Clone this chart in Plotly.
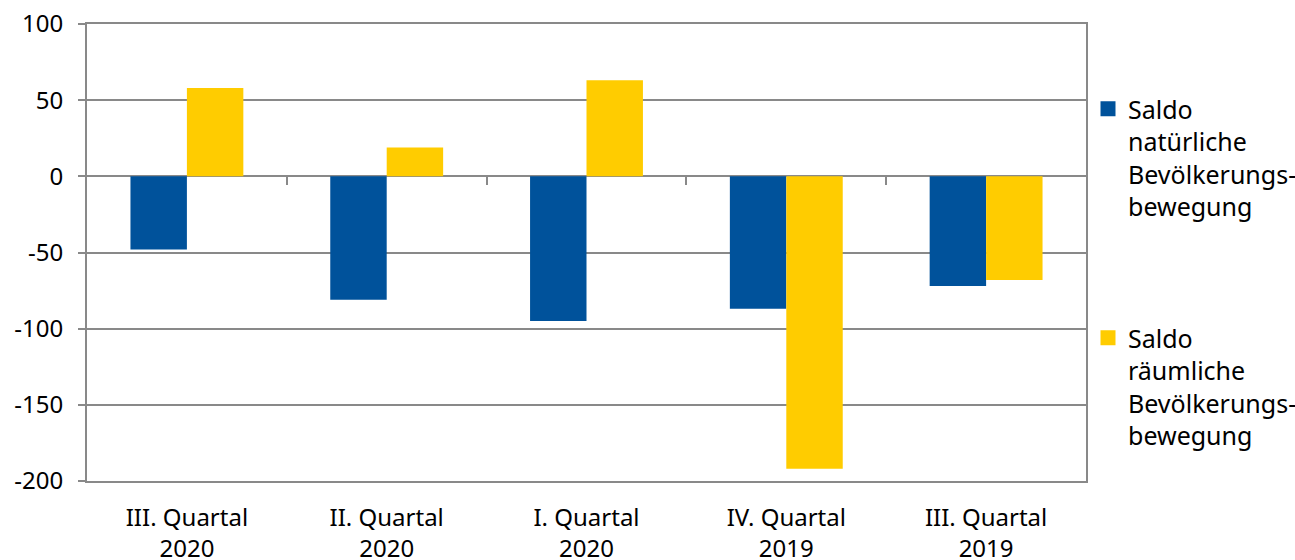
import plotly.graph_objects as go

categories = ["III. Quartal<br>2020", "II. Quartal<br>2020", "I. Quartal<br>2020",
              "IV. Quartal<br>2019", "III. Quartal<br>2019"]
natuerlich = [-48, -81, -95, -87, -72]
raeumlich = [58, 19, 63, -192, -68]
series_names = ["Saldo<br>natürliche<br>Bevölkerungs-<br>bewegung",
                "Saldo<br>räumliche<br>Bevölkerungs-<br>bewegung"]
y_ticks = [-200, -150, -100, -50, 0, 50, 100]
y_tick_labels = ["-200", "-150", "-100", "-50", "0", "50", "100"]

BLUE = "#00529B"
YELLOW = "#FFCC00"
GRID = "#898989"
FONT = "Noto Sans"

y_min, y_max = -200, 100
boundaries = [i + 0.5 for i in range(len(categories) - 1)]

fig = go.Figure()
fig.add_trace(go.Bar(x=categories, y=natuerlich, name=series_names[0],
                     marker=dict(color=BLUE, line=dict(width=0)), showlegend=False))
fig.add_trace(go.Bar(x=categories, y=raeumlich, name=series_names[1],
                     marker=dict(color=YELLOW, line=dict(width=0)), showlegend=False))
# legend entries with larger square markers
for name, color, grp in [(series_names[0], BLUE, "a"), (series_names[1], YELLOW, "b")]:
    fig.add_trace(go.Scatter(x=[categories[0]], y=[None], mode="markers", name=name,
                             marker=dict(symbol="square", size=15, color=color),
                             legendgroup=grp, hoverinfo="skip"))
# invisible helper trace for boundary tick axis at y=0
fig.add_trace(go.Scatter(x=boundaries, y=[0] * len(boundaries), xaxis="x2", mode="none",
                         showlegend=False, hoverinfo="skip"))

fig.update_layout(
    width=1295, height=560,
    margin=dict(l=87, r=209, t=24, b=79),
    paper_bgcolor="white", plot_bgcolor="white",
    font=dict(family=FONT, size=24, color="#000000"),
    barmode="group", bargap=0.435, bargroupgap=0,
    showlegend=True,
    legend=dict(xref="container", yref="paper", x=1088 / 1295, y=(481 - 86) / 457,
                xanchor="left", yanchor="top",
                font=dict(size=25), tracegroupgap=96, valign="top",
                itemsizing="trace", bgcolor="rgba(0,0,0,0)"),
    xaxis=dict(type="category", showgrid=False, ticks="", showline=True, mirror=True,
               linecolor=GRID, linewidth=2, tickfont=dict(size=24),
               range=[-0.5, len(categories) - 0.5], automargin=False,
               ticklabelstandoff=14),
    xaxis2=dict(overlaying="x", anchor="free",
                position=(0 - y_min) / (y_max - y_min),
                range=[-0.5, len(categories) - 0.5], showgrid=False,
                showticklabels=False, tickvals=boundaries, ticks="outside",
                ticklen=8, tickwidth=2, tickcolor=GRID, showline=False, zeroline=False,
                automargin=False),
    yaxis=dict(range=[y_min, y_max], tickvals=y_ticks, ticktext=y_tick_labels,
               showgrid=True, gridcolor=GRID,
               gridwidth=2, zeroline=True, zerolinecolor=GRID, zerolinewidth=2,
               showline=True, mirror=True, linecolor=GRID, linewidth=2,
               ticks="outside", ticklen=7, tickwidth=2, tickcolor=GRID,
               ticklabelstandoff=10, tickfont=dict(size=24), automargin=False),
)

fig.write_html("out.html", config={"displayModeBar": False},
               post_script="document.body.style.margin='0';document.body.style.overflow='hidden';")
